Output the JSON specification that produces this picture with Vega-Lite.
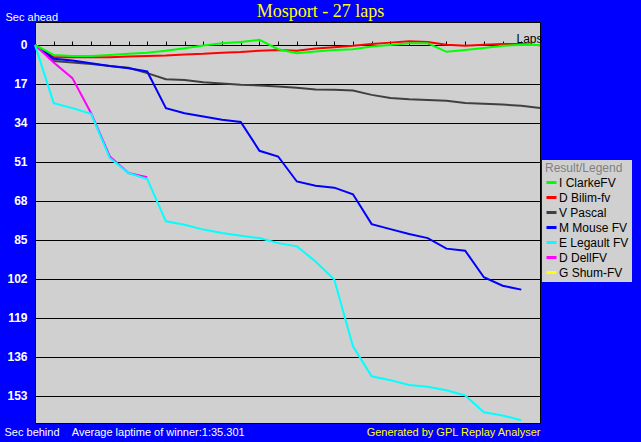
{
  "$schema": "https://vega.github.io/schema/vega-lite/v6.json",
  "width": 505,
  "height": 401,
  "autosize": {"type": "none"},
  "padding": {"left": 35, "top": 22, "right": 101, "bottom": 19},
  "background": "#0000FF",
  "title": {
    "text": "Mosport - 27 laps",
    "color": "#FFFF00",
    "font": "Liberation Serif",
    "fontSize": 18,
    "fontWeight": "normal",
    "anchor": "middle",
    "baseline": "alphabetic",
    "offset": 5,
    "dx": 33,
    "dy": 29
  },
  "config": {
    "view": {"fill": "#D0D0D0", "stroke": "#000000", "strokeWidth": 1},
    "axis": {"labelFont": "Liberation Sans", "titleFont": "Liberation Sans"},
    "legend": {
      "orient": "none",
      "legendX": 507,
      "legendY": 138,
      "fillColor": "#D0D0D0",
      "padding": 3,
      "titleColor": "#808080",
      "titleFont": "Liberation Sans",
      "titleFontSize": 12,
      "titleFontWeight": "normal",
      "titlePadding": 1,
      "labelFont": "Liberation Sans",
      "labelFontSize": 12,
      "labelColor": "#000000",
      "labelOffset": 1,
      "symbolType": "stroke",
      "symbolStrokeWidth": 3,
      "symbolSize": 100,
      "rowPadding": 2
    }
  },
  "data": {
    "values": [
      {"driver": "G Shum-FV", "lap": 0, "gap": 0},

      {"driver": "D Bilim-fv", "lap": 0, "gap": 0},
      {"driver": "D Bilim-fv", "lap": 1, "gap": 5.4},
      {"driver": "D Bilim-fv", "lap": 2, "gap": 5.4},
      {"driver": "D Bilim-fv", "lap": 3, "gap": 5.4},
      {"driver": "D Bilim-fv", "lap": 4, "gap": 5.4},
      {"driver": "D Bilim-fv", "lap": 5, "gap": 5.1},
      {"driver": "D Bilim-fv", "lap": 6, "gap": 4.8},
      {"driver": "D Bilim-fv", "lap": 7, "gap": 4.6},
      {"driver": "D Bilim-fv", "lap": 8, "gap": 4.2},
      {"driver": "D Bilim-fv", "lap": 9, "gap": 3.9},
      {"driver": "D Bilim-fv", "lap": 10, "gap": 3.4},
      {"driver": "D Bilim-fv", "lap": 11, "gap": 3.1},
      {"driver": "D Bilim-fv", "lap": 12, "gap": 2.5},
      {"driver": "D Bilim-fv", "lap": 13, "gap": 2.2},
      {"driver": "D Bilim-fv", "lap": 14, "gap": 2.5},
      {"driver": "D Bilim-fv", "lap": 15, "gap": 1.6},
      {"driver": "D Bilim-fv", "lap": 16, "gap": 1.0},
      {"driver": "D Bilim-fv", "lap": 17, "gap": 0.4},
      {"driver": "D Bilim-fv", "lap": 18, "gap": -0.4},
      {"driver": "D Bilim-fv", "lap": 19, "gap": -1.0},
      {"driver": "D Bilim-fv", "lap": 20, "gap": -1.6},
      {"driver": "D Bilim-fv", "lap": 21, "gap": -1.3},
      {"driver": "D Bilim-fv", "lap": 22, "gap": -0.1},
      {"driver": "D Bilim-fv", "lap": 23, "gap": 0.4},
      {"driver": "D Bilim-fv", "lap": 24, "gap": -0.1},
      {"driver": "D Bilim-fv", "lap": 25, "gap": -0.4},
      {"driver": "D Bilim-fv", "lap": 26, "gap": -0.4},
      {"driver": "D Bilim-fv", "lap": 27, "gap": 0.1},

      {"driver": "V Pascal", "lap": 0, "gap": 0},
      {"driver": "V Pascal", "lap": 1, "gap": 7.0},
      {"driver": "V Pascal", "lap": 2, "gap": 7.7},
      {"driver": "V Pascal", "lap": 3, "gap": 8.3},
      {"driver": "V Pascal", "lap": 4, "gap": 9.2},
      {"driver": "V Pascal", "lap": 5, "gap": 10.0},
      {"driver": "V Pascal", "lap": 6, "gap": 12.3},
      {"driver": "V Pascal", "lap": 7, "gap": 15.0},
      {"driver": "V Pascal", "lap": 8, "gap": 15.3},
      {"driver": "V Pascal", "lap": 9, "gap": 16.3},
      {"driver": "V Pascal", "lap": 10, "gap": 16.8},
      {"driver": "V Pascal", "lap": 11, "gap": 17.4},
      {"driver": "V Pascal", "lap": 12, "gap": 17.7},
      {"driver": "V Pascal", "lap": 13, "gap": 18.2},
      {"driver": "V Pascal", "lap": 14, "gap": 18.7},
      {"driver": "V Pascal", "lap": 15, "gap": 19.5},
      {"driver": "V Pascal", "lap": 16, "gap": 19.6},
      {"driver": "V Pascal", "lap": 17, "gap": 19.9},
      {"driver": "V Pascal", "lap": 18, "gap": 21.8},
      {"driver": "V Pascal", "lap": 19, "gap": 23.2},
      {"driver": "V Pascal", "lap": 20, "gap": 23.7},
      {"driver": "V Pascal", "lap": 21, "gap": 24.0},
      {"driver": "V Pascal", "lap": 22, "gap": 24.4},
      {"driver": "V Pascal", "lap": 23, "gap": 25.4},
      {"driver": "V Pascal", "lap": 24, "gap": 25.7},
      {"driver": "V Pascal", "lap": 25, "gap": 26.0},
      {"driver": "V Pascal", "lap": 26, "gap": 26.6},
      {"driver": "V Pascal", "lap": 27, "gap": 27.5},

      {"driver": "M Mouse FV", "lap": 0, "gap": 0},
      {"driver": "M Mouse FV", "lap": 1, "gap": 6.0},
      {"driver": "M Mouse FV", "lap": 2, "gap": 6.8},
      {"driver": "M Mouse FV", "lap": 3, "gap": 8.0},
      {"driver": "M Mouse FV", "lap": 4, "gap": 9.2},
      {"driver": "M Mouse FV", "lap": 5, "gap": 10.2},
      {"driver": "M Mouse FV", "lap": 6, "gap": 11.6},
      {"driver": "M Mouse FV", "lap": 7, "gap": 27.6},
      {"driver": "M Mouse FV", "lap": 8, "gap": 29.8},
      {"driver": "M Mouse FV", "lap": 9, "gap": 31.2},
      {"driver": "M Mouse FV", "lap": 10, "gap": 32.7},
      {"driver": "M Mouse FV", "lap": 11, "gap": 33.6},
      {"driver": "M Mouse FV", "lap": 12, "gap": 46.2},
      {"driver": "M Mouse FV", "lap": 13, "gap": 48.7},
      {"driver": "M Mouse FV", "lap": 14, "gap": 59.6},
      {"driver": "M Mouse FV", "lap": 15, "gap": 61.5},
      {"driver": "M Mouse FV", "lap": 16, "gap": 62.3},
      {"driver": "M Mouse FV", "lap": 17, "gap": 65.2},
      {"driver": "M Mouse FV", "lap": 18, "gap": 78.2},
      {"driver": "M Mouse FV", "lap": 19, "gap": 80.4},
      {"driver": "M Mouse FV", "lap": 20, "gap": 82.5},
      {"driver": "M Mouse FV", "lap": 21, "gap": 84.3},
      {"driver": "M Mouse FV", "lap": 22, "gap": 88.9},
      {"driver": "M Mouse FV", "lap": 23, "gap": 89.8},
      {"driver": "M Mouse FV", "lap": 24, "gap": 101.4},
      {"driver": "M Mouse FV", "lap": 25, "gap": 105.1},
      {"driver": "M Mouse FV", "lap": 26, "gap": 106.8},

      {"driver": "D DellFV", "lap": 0, "gap": 0},
      {"driver": "D DellFV", "lap": 1, "gap": 7.7},
      {"driver": "D DellFV", "lap": 2, "gap": 14.5},
      {"driver": "D DellFV", "lap": 3, "gap": 29.8},
      {"driver": "D DellFV", "lap": 4, "gap": 48.7},
      {"driver": "D DellFV", "lap": 5, "gap": 55.9},
      {"driver": "D DellFV", "lap": 6, "gap": 57.7},

      {"driver": "E Legault FV", "lap": 0, "gap": 0},
      {"driver": "E Legault FV", "lap": 1, "gap": 25.4},
      {"driver": "E Legault FV", "lap": 2, "gap": 27.6},
      {"driver": "E Legault FV", "lap": 3, "gap": 30.1},
      {"driver": "E Legault FV", "lap": 4, "gap": 49.4},
      {"driver": "E Legault FV", "lap": 5, "gap": 55.9},
      {"driver": "E Legault FV", "lap": 6, "gap": 58.5},
      {"driver": "E Legault FV", "lap": 7, "gap": 77.0},
      {"driver": "E Legault FV", "lap": 8, "gap": 78.5},
      {"driver": "E Legault FV", "lap": 9, "gap": 80.6},
      {"driver": "E Legault FV", "lap": 10, "gap": 82.1},
      {"driver": "E Legault FV", "lap": 11, "gap": 83.3},
      {"driver": "E Legault FV", "lap": 12, "gap": 84.3},
      {"driver": "E Legault FV", "lap": 13, "gap": 86.5},
      {"driver": "E Legault FV", "lap": 14, "gap": 87.9},
      {"driver": "E Legault FV", "lap": 15, "gap": 94.5},
      {"driver": "E Legault FV", "lap": 16, "gap": 102.4},
      {"driver": "E Legault FV", "lap": 17, "gap": 131.5},
      {"driver": "E Legault FV", "lap": 18, "gap": 144.6},
      {"driver": "E Legault FV", "lap": 19, "gap": 146.3},
      {"driver": "E Legault FV", "lap": 20, "gap": 148.4},
      {"driver": "E Legault FV", "lap": 21, "gap": 149.2},
      {"driver": "E Legault FV", "lap": 22, "gap": 150.7},
      {"driver": "E Legault FV", "lap": 23, "gap": 153.0},
      {"driver": "E Legault FV", "lap": 24, "gap": 160.3},
      {"driver": "E Legault FV", "lap": 25, "gap": 161.7},
      {"driver": "E Legault FV", "lap": 26, "gap": 163.8},

      {"driver": "I ClarkeFV", "lap": 0, "gap": 0},
      {"driver": "I ClarkeFV", "lap": 1, "gap": 4.4},
      {"driver": "I ClarkeFV", "lap": 2, "gap": 4.8},
      {"driver": "I ClarkeFV", "lap": 3, "gap": 4.8},
      {"driver": "I ClarkeFV", "lap": 4, "gap": 4.4},
      {"driver": "I ClarkeFV", "lap": 5, "gap": 3.9},
      {"driver": "I ClarkeFV", "lap": 6, "gap": 3.4},
      {"driver": "I ClarkeFV", "lap": 7, "gap": 2.5},
      {"driver": "I ClarkeFV", "lap": 8, "gap": 1.5},
      {"driver": "I ClarkeFV", "lap": 9, "gap": 0.3},
      {"driver": "I ClarkeFV", "lap": 10, "gap": -0.7},
      {"driver": "I ClarkeFV", "lap": 11, "gap": -1.3},
      {"driver": "I ClarkeFV", "lap": 12, "gap": -2.2},
      {"driver": "I ClarkeFV", "lap": 13, "gap": 1.9},
      {"driver": "I ClarkeFV", "lap": 14, "gap": 3.6},
      {"driver": "I ClarkeFV", "lap": 15, "gap": 2.9},
      {"driver": "I ClarkeFV", "lap": 16, "gap": 2.2},
      {"driver": "I ClarkeFV", "lap": 17, "gap": 1.9},
      {"driver": "I ClarkeFV", "lap": 18, "gap": 0.7},
      {"driver": "I ClarkeFV", "lap": 19, "gap": 0.0},
      {"driver": "I ClarkeFV", "lap": 20, "gap": -0.7},
      {"driver": "I ClarkeFV", "lap": 21, "gap": -0.7},
      {"driver": "I ClarkeFV", "lap": 22, "gap": 3.0},
      {"driver": "I ClarkeFV", "lap": 23, "gap": 2.2},
      {"driver": "I ClarkeFV", "lap": 24, "gap": 1.3},
      {"driver": "I ClarkeFV", "lap": 25, "gap": 0.4},
      {"driver": "I ClarkeFV", "lap": 26, "gap": -0.1},
      {"driver": "I ClarkeFV", "lap": 27, "gap": 0}
    ]
  },
  "layer": [
    {
      "mark": {"type": "line", "strokeWidth": 2},
      "encoding": {
        "x": {
          "field": "lap",
          "type": "quantitative",
          "scale": {"domain": [0, 27], "nice": false, "zero": false},
          "axis": {
            "orient": "top",
            "offset": -23,
            "values": [0, 1, 2, 3, 4, 5, 6, 7, 8, 9, 10, 11, 12, 13, 14, 15, 16, 17, 18, 19, 20, 21, 22, 23, 24, 25, 26, 27],
            "labels": false,
            "grid": false,
            "domainColor": "#000000",
            "domainWidth": 1,
            "tickColor": "#000000",
            "tickSize": 4,
            "tickWidth": 1,
            "title": "Laps",
            "titleColor": "#000000",
            "titleFontSize": 12,
            "titleFontWeight": "normal",
            "titleAnchor": "start",
            "titleAlign": "left",
            "titleBaseline": "alphabetic",
            "titleX": 481,
            "titleY": -3
          }
        },
        "y": {
          "field": "gap",
          "type": "quantitative",
          "scale": {"domain": [-10, 165], "nice": false, "zero": false, "reverse": true},
          "axis": {
            "orient": "left",
            "values": [0, 17, 34, 51, 68, 85, 102, 119, 136, 153],
            "domain": false,
            "ticks": false,
            "labelPadding": 8,
            "labelColor": "#FFFFFF",
            "labelFontSize": 12,
            "labelFontWeight": "bold",
            "grid": true,
            "gridColor": "#000000",
            "gridOpacity": 1,
            "gridWidth": 1,
            "title": "Sec ahead",
            "titleColor": "#FFFFFF",
            "titleFontSize": 11,
            "titleFontWeight": "normal",
            "titleAngle": 0,
            "titleAlign": "left",
            "titleBaseline": "alphabetic",
            "titleX": -30,
            "titleY": -2
          }
        },
        "color": {
          "field": "driver",
          "type": "nominal",
          "title": "Result/Legend",
          "scale": {
            "domain": ["I ClarkeFV", "D Bilim-fv", "V Pascal", "M Mouse FV", "E Legault FV", "D DellFV", "G Shum-FV"],
            "range": ["#00FF00", "#FF0000", "#404040", "#0000FF", "#00FFFF", "#FF00FF", "#FFFF00"]
          }
        }
      }
    },
    {
      "mark": {"type": "point", "opacity": 0},
      "encoding": {
        "x": {
          "field": "lap",
          "type": "quantitative",
          "axis": {
            "orient": "bottom",
            "labels": false,
            "ticks": false,
            "domain": false,
            "grid": false,
            "title": "Sec behind\u00a0\u00a0\u00a0\u00a0Average laptime of winner:1:35.301",
            "titleColor": "#FFFFFF",
            "titleFontSize": 11,
            "titleFontWeight": "normal",
            "titleAlign": "left",
            "titleBaseline": "alphabetic",
            "titleX": -31,
            "titleY": 12
          }
        },
        "y": {
          "field": "gap",
          "type": "quantitative",
          "axis": {
            "orient": "right",
            "labels": false,
            "ticks": false,
            "domain": false,
            "grid": false,
            "title": "Generated by GPL Replay Analyser",
            "titleColor": "#FFFF00",
            "titleFontSize": 11,
            "titleFontWeight": "normal",
            "titleAngle": 0,
            "titleAlign": "right",
            "titleBaseline": "alphabetic",
            "titleX": 0,
            "titleY": 413
          }
        }
      }
    }
  ],
  "resolve": {"axis": {"x": "independent", "y": "independent"}}
}
